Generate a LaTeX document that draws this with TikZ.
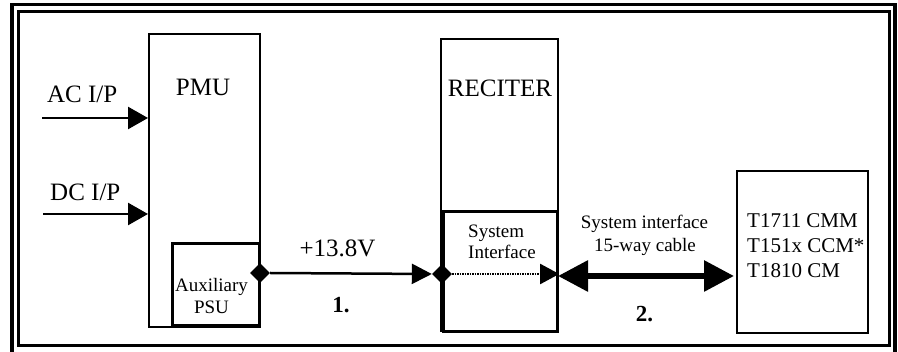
\documentclass[tikz,border=0pt]{standalone}
\usepackage{fontspec}
\setmainfont{Liberation Serif}
\usetikzlibrary{arrows.meta,shapes.geometric}
\begin{document}
\begin{tikzpicture}[x=1pt,y=-1pt,
  box/.style={draw,inner sep=0pt,anchor=north west,rectangle},
  thinbox/.style={box,line width=2pt},
  thickbox/.style={box,line width=3.2pt},
  dia/.style={shape=diamond,fill=black,inner sep=0pt,minimum width=20pt,minimum height=20pt},
  lbl/.style={inner sep=0pt},
  big/.style={lbl,font=\fontsize{25pt}{25pt}\selectfont},
  mid/.style={lbl,font=\fontsize{21pt}{21pt}\selectfont},
  small/.style={lbl,font=\fontsize{19pt}{19pt}\selectfont},
  num/.style={lbl,font=\fontsize{23pt}{23pt}\selectfont\bfseries},
  inarrow/.style={line width=2.5pt,-{Triangle[length=20pt,width=22pt]}},
]
\useasboundingbox (0,0) rectangle (898,352);
\fill[white] (0,0) rectangle (898,352);
% frame
\draw[line width=3.5pt] (12,370) -- (12,4.5) -- (895,4.5) -- (895,370);
\draw[line width=3pt] (18.5,11.5) rectangle (889.5,345.5);
% boxes
\node[thinbox,minimum width=111pt,minimum height=293pt] (pmu) at (148,33) {};
\node[thickbox,minimum width=87pt,minimum height=82pt] (psu) at (171,242) {};
\node[thinbox,minimum width=117pt,minimum height=292pt] (rec) at (440,38) {};
\node[thickbox,minimum width=114pt,minimum height=120pt] (sysint) at (442,210) {};
\node[thinbox,minimum width=131pt,minimum height=162pt] (tbox) at (736,170) {};
% texts
\node[big,anchor=base west] (ac) at (47,103) {AC I/P};
\node[big,anchor=base west] (dc) at (50,201) {DC I/P};
\node[big,anchor=base] (pmut) at (203,96) {PMU};
\node[big,anchor=base] (rect) at (500,97) {RECITER};
\node[small,anchor=base] (aux1) at (211.5,292) {Auxiliary};
\node[small,anchor=base] (aux2) at (211.5,314) {PSU};
\node[big,anchor=base] (volt) at (337.5,257) {+13.8V};
\node[num,anchor=base] (n1) at (341,313) {1.};
\node[small,anchor=base west] (si1) at (468,238) {System};
\node[small,anchor=base west] (si2) at (468,259) {Interface};
\node[small,anchor=base] (c1) at (644.5,229) {System interface};
\node[small,anchor=base] (c2) at (645,252) {15-way cable};
\node[num,anchor=base] (n2) at (644.5,322) {2.};
\node[mid,anchor=base west] (t1) at (747,228) {T1711 CMM};
\node[mid,anchor=base west] (t2) at (747,253) {T151x CCM*};
\node[mid,anchor=base west] (t3) at (747,278) {T1810 CM};
% inputs
\coordinate (acin) at (42,118);
\coordinate (dcin) at (43,214);
\draw[inarrow] (acin) -- (acin -| pmu.west);
\draw[inarrow] (dcin) -- (dcin -| pmu.west);
% diamonds and connectors
\node[dia] (d1) at (260,273) {};
\node[dia] (d2) at (442,274) {};
\draw[line width=2.5pt,-{Triangle[length=20pt,width=20pt]}] (d1.east) -- (d2.west);
\draw[line width=2pt,dash pattern=on 1.5pt off 1pt,-{Triangle[length=19pt,width=20pt]}] (d2.east) -- (d2 -| sysint.east);
\coordinate (ca) at (558,276);
\coordinate (cb) at (734,276);
\draw[line width=6pt,{Triangle[length=30pt,width=30pt]}-{Triangle[length=30pt,width=30pt]}] (ca) -- (cb);
\end{tikzpicture}
\end{document}
